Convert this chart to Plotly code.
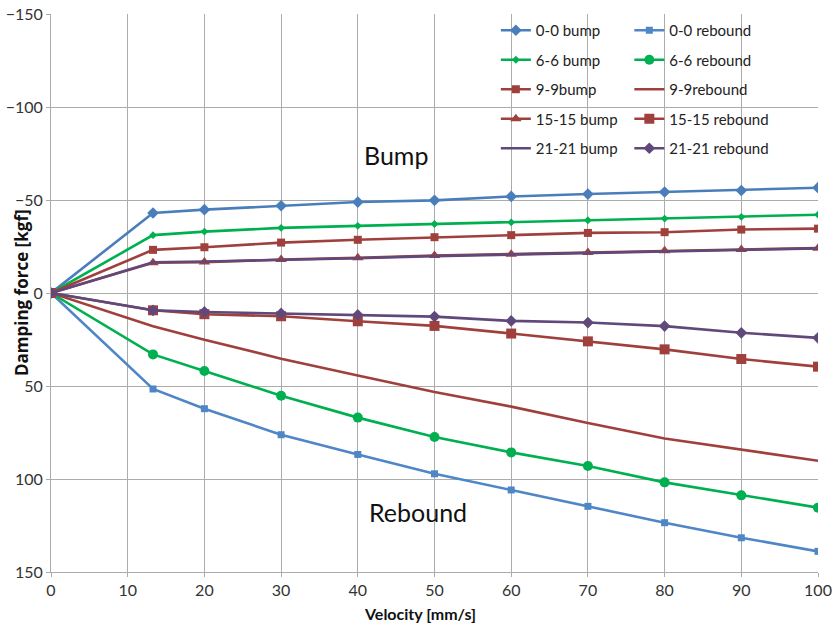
import plotly.graph_objects as go

velocity = [0, 13.3, 20, 30, 40, 50, 60, 70, 80, 90, 100]

bump_00 = [0, -43.0, -44.8, -46.9, -48.9, -49.8, -51.9, -53.2, -54.3, -55.1, -56.6]
reb_00 = [0, 51.6, 62.2, 76.2, 86.8, 97.2, 105.9, 114.7, 123.5, 131.6, 138.9]
bump_66 = [0, -31.1, -33.0, -35.0, -36.1, -37.1, -38.0, -39.1, -40.0, -40.9, -42.1]
reb_66 = [0, 33.0, 41.9, 55.2, 67.0, 77.4, 85.7, 93.0, 101.8, 108.8, 115.4]
bump_99 = [0, -23.2, -24.6, -27.1, -28.6, -30.0, -31.1, -32.3, -32.7, -34.1, -34.6]
reb_99 = [0, 17.9, 25.1, 35.3, 44.3, 53.2, 61.1, 69.9, 78.2, 84.3, 90.2]
bump_1515 = [0, -16.3, -16.6, -18.0, -18.9, -20.2, -20.9, -21.8, -22.7, -23.4, -24.1]
reb_1515 = [0, 9.3, 11.4, 12.5, 15.2, 17.7, 21.8, 26.0, 30.3, 35.5, 39.6]
bump_2121 = [0, -16.5, -16.9, -17.7, -18.7, -19.8, -20.7, -21.4, -22.4, -23.1, -24.0]
reb_2121 = [0, 9.3, 10.2, 11.0, 11.8, 12.7, 15.0, 15.9, 17.8, 21.4, 24.1]

x_ticks = [0, 10, 20, 30, 40, 50, 60, 70, 80, 90, 100]
y_ticks = [-150, -100, -50, 0, 50, 100, 150]

BLUE = "#4A7EBB"
BLUE2 = "#4F86C6"
GREEN = "#00B050"
RED = "#A0403D"
PURPLE = "#60497A"

series = [
    ("0-0 bump", bump_00, BLUE, "diamond", 9, "legend"),
    ("0-0 rebound", reb_00, BLUE2, "square", 7, "legend2"),
    ("6-6 bump", bump_66, GREEN, "diamond", 6, "legend"),
    ("6-6 rebound", reb_66, GREEN, "circle", 10, "legend2"),
    ("9-9bump", bump_99, RED, "square", 8, "legend"),
    ("9-9rebound", reb_99, RED, None, 0, "legend2"),
    ("15-15 bump", bump_1515, RED, "triangle-up", 10, "legend"),
    ("15-15 rebound", reb_1515, RED, "square", 10, "legend2"),
    ("21-21 bump", bump_2121, PURPLE, None, 0, "legend"),
    ("21-21 rebound", reb_2121, PURPLE, "diamond", 9, "legend2"),
]

fig = go.Figure()
for name, vals, color, sym, size, leg in series:
    kw = dict(mode="lines+markers", marker=dict(symbol=sym, size=size, color=color)) if sym else dict(mode="lines")
    fig.add_trace(go.Scatter(
        x=velocity, y=vals, name=name, legend=leg, legendgroup=name,
        line=dict(color=color, width=2.6), **kw))

FONT = "Lato"
legend_common = dict(
    font=dict(family=FONT, size=15, color="#222222"),
    bgcolor="rgba(0,0,0,0)", itemwidth=30, tracegroupgap=7,
    traceorder="grouped", yanchor="top", xanchor="left", y=1.0,
)

fig.update_layout(
    width=833, height=628,
    margin=dict(l=51, r=15, t=14, b=56),
    paper_bgcolor="white", plot_bgcolor="white",
    font=dict(family=FONT, size=16, color="#333333"),
    legend=dict(x=0.58, **legend_common),
    legend2=dict(x=0.754, **legend_common),
    xaxis=dict(
        range=[0, 100], tickvals=x_ticks, automargin=False,
        showgrid=True, gridcolor="#ABABAB", gridwidth=1,
        showline=True, linecolor="#ABABAB", linewidth=1,
        ticks="outside", ticklen=4, tickcolor="#ABABAB",
        zeroline=False,
    ),
    yaxis=dict(
        range=[150, -150], tickvals=y_ticks, automargin=False,
        showgrid=True, gridcolor="#ABABAB", gridwidth=1,
        showline=True, linecolor="#ABABAB", linewidth=1,
        ticks="outside", ticklen=4, tickcolor="#ABABAB",
        zeroline=False,
    ),
    annotations=[
        dict(x=45, y=-74, text="Bump", showarrow=False, font=dict(family=FONT, size=25, color="#111111")),
        dict(x=47.8, y=118, text="Rebound", showarrow=False, font=dict(family=FONT, size=25, color="#111111")),
        dict(xref="paper", yref="paper", x=-0.039, y=0.5, text="<b>Damping force [kgf]</b>",
             textangle=-90, showarrow=False, xanchor="center", yanchor="middle",
             font=dict(family="Open Sans", size=17, color="#111111")),
        dict(xref="paper", yref="paper", x=0.481, y=-0.0735, text="<b>Velocity [mm/s]</b>",
             showarrow=False, xanchor="center", yanchor="middle",
             font=dict(family=FONT, size=16, color="#111111")),
    ],
)

fig.write_html("out.html")
